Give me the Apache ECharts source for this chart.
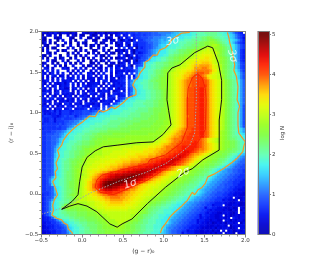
<!DOCTYPE html>
<html><head><meta charset="utf-8">
<style>html,body{margin:0;padding:0;background:#fff}#c{width:330px;height:264px}</style>
<script src="https://cdn.jsdelivr.net/npm/echarts@6/dist/echarts.min.js"></script>
</head><body><div id="c"></div>
<script>
// log N per bin. Rows top (r-i = 2) to bottom (r-i = -0.5), 80 columns in groups of 10.
// One base-36 digit per bin: logN = digit / 7. "." = empty bin.
const binRows = [
"3203242033 2032..3203 3023302332 3454555656 6667778888 89aabbbccd deeefffffe ddcba8654.",
"0.32.3.0.. 2.30.20..3 02.3.2.0.3 4.34.54556 5667777889 9aabbccccd deeeeffffe eddcba8654",
"30...203.. .20..3..02 .30..203.. 04.35.4556 6677888999 aabcccddde effgghhgff eedcba8653",
"20.3..0.3. .2.0...3.. 20..32.02. 4035304.55 6778889a9a bcccddeeef fffgghiihg feedcba864",
"03.2.0...3 .0..2.30.. .3.02..3.0 43.34.5455 5677889aab ccddeeefff gghhiijjih gfedca8654",
".20...3.0. .3..0..2.0 3.0..2...3 03.40.4355 566788abbc cdddeefffg gghhiijkkj hgfedca865",
"3.0.20.... 2.3..0...0 ..2.3..0.. 3.5.34.054 566789abcc dddeeffggg hhijkllkjj ihgfdca865",
"0.3...2.03 ...0.2.3.. 02..3.0..2 2304.30455 56789abccd eeefggghhi jjkllmllkj ihgfeca854",
"..30.2.... 0.3.2...0. 3.0..2.30. 04.3.40534 56789bcccd eeffgghhij kllmmmmllk ihgfeca854",
"20.3...0.. 3..0.2.3.. .3.20.3... 3.4024.355 67789bccdd ffgghhiijj lmmnnnnmlj ihgfeca854",
"3.0..2.03. .0.3..0.2. 3..3.0.2.0 234.305346 679ccddeef gghhiijjkl mmnnoonmlk jihgeca854",
"..3.20..3. 0...3.2..0 .2.03.3... 4.302.4056 68bccddeef gghhijklmm nnoooonmlk jihgeca854",
"03..2.0..3 .2.0.3...0 2.3..0.32. 034.3.3457 bcddefffgg hhiijklmmn ooopppomlk jihgfdb965",
"3.0..3.2.0 ..3...2.03 .0.2..30.4 243.50.567 cddeefffgg hhijkllmno ppqqqqpnml kihgfdb965",
".43.2...34 2..3.4.2.. 3.32.3.4.3 4.3454.6ab cddeeffghh ijkllmmnno qqqrrqpnml kihgfdb965",
"2.4.3.4... 3.2.3.3..2 .3.2.4.4.3 33343457ac ddeefgghii jklmmnnoop qrrrrrqonl kihgfeca75",
"43.24.3.4. .2.3.4..34 2.3.4..3.2 44.3.5.7bc ddeefgghij klmmnnoppq rsssrrpnml kihgfedb86",
"3.2.43.23. 2.3.4.2.34 .2.4.3.2.4 434.4.39cc ddeffghhij klmmnoppqr stsrqonmml ljhgfedb86",
"2.3.2.3.4. 334.4.2.33 3.24.3.33. 244.4.58cc ddefgghiij klmnnopqrs sttsrpnmml ljhgfedb86",
"234.3.4.33 43.2.4.2.3 2.3.44.233 445.68bcdd eefgghhiij klmnopqrrs stttsrponm lkihgfec97",
"42.3.32342 4.4.2.3.23 343.2.4.34 344.69cdde eeffgghiij klmnopqrrs stttsrponm lkihgfec97",
"3.4.24.243 4.3.2.4423 44.2.3.424 435.68bcdd eeffgghiij klmnopqrrs sttttrponm lkihgfec97",
"43.2.4.342 2.34.4.2.3 4.3.3.24.4 244.57bcdd eeffgghiij klmnopqrss ttuusrponm lkihgfec97",
"2343.24.34 4.2.3.3.24 3.23443.23 4.3.57bccd deeffgghij klmnopqrss ttuusrponm lkihgfec97",
"44.2.34.34 342.3.42.4 43.43.2.44 345.58bccd deeffgghij klmnopqrss ttuusrponm lkihgfec97",
"3.2.42.3.2 43.2.4342. 3.442.345. 344.67bcdd deeffgghij klmnopqrss ttuusrponm lkihgfec97",
"43.44.342. 342.3.43.4 243.3.443. 4569cccddd deeffgghij klmnopqsss ttuusrponm lkihgfec97",
"4343.2.334 243.43.2.3 43.23443.4 58bccddeee efffgghhij klmnopqsss ttuusrponm lkihgfec97",
"42.3.342.4 53.342.443 243.443.56 9ccdddeeee ffffgghhij klmnopqsss ttuusrponm lkihgfec97",
"343.3.243. 443.45343. 443.5.57ab cccdddeeee efffgghhij klmnopqsss ttuusrponm lkihgfec96",
"44.3.244.3 45.34445.4 545.6.8bcd ddddeeeeff ffgghhhiij klmnopqsss ttuusrponm lkihgfec96",
"4334535355 5445556665 6778acccdd ddeeeeefff ffgghhhiij klmnopqsss ttuusrponm lkihgfec96",
"5343445355 5455556667 89bccccddd deeeeffffg gggghhiiij klmnopqsss ttuusrponm lkihgfec96",
"4555443456 566456778a bccddddeee eeeefffffg ggghhhiiij klmnopqrss ttuusrponm lkihgfec96",
"5445535565 5566778acc cddddeeeee ffffffgggg gghhhhiiij klmnopqsss ttuusrponm lkihgfec96",
"5445535556 67788acccd ddddeeefff fffggggggh hhhhhiiijj klmnopqsss ttuusrponm lkihgfec96",
"4555555656 7788accddd deeeeeffff fggggghhhh hhhhiiiijj klmnopqsss ttuusrponm lkihgfec96",
"5555556566 789bccddde eeeeffffff gggghhhhhh hhhiiiijjk klmnopqsss ttuusrponm lkihgfec96",
"4555555566 9accdddeee efffffgggg ghhhhhhhhi iiiiiijjjk lmnopqrsst ttuusrponm lkihgfedb9",
"5555667789 bccdddeeef fffggghhhh hhhhhiiiii iiiiijjjkl mnopqrrsst ttuusrponm kjihgfecb9",
"556667789b cdddeeefff gghhhhhhii iiiiiiiiii iijjjjjklm nopqqrsstt ttuusrponm kjihgfedcb",
"55667778ab cddeeefffg ghhhiiiiii iiijjjjjjj jjjjjjklmn opqqrssttt ttuusrponm kjihgffedc",
"5566778abc cddeeefffg hhiiiijjjj jjjjjjjjjj jjjjjklmno pqrrrssttt ttsrqonmlk kjihggfedc",
"5566778acc deeeffgggh hiiijjjjjj jjjjjkkkkk kkkkllmnno pqrrsstttt utsrqonmlk kjiihhgfed",
"5566779bcd eeefffgggh hiijjjjjjj kkkkkkkkkl lllmmmnopp qrrssttttu utsrqponml kjiihhgfed",
"556678acdd eeffgghhhi ijjjkkkkll llllllmmmm mmnnnoopqr rrsttuuuuu utsrqponml kjiihhgfed",
"556679bcdd eeffgghiij jjkkllllll llmmmmmmmm nnoooppqqr rssttuuuuu tsrrqponml kjihhggfed",
"556679cdde effgghhiij jkkkllllmm mmmmnnnnnn ooooppqqrr ssttuuvvut srqqponlkj iihhggfedc",
"55667acdde effgghhijj kkkklllmmm mmmnnnnooo oopppqqrrs ttuuvvvusr qqponmkjji ihhgfeecba",
"55667acdde effghhijkk kllllmmmmm nnnnoooopp ppqqqrrstt uuvvwvusrq ponmlkjjii hhgfedca98",
"55667bcdee fgghhijkkl lllmmmmnnn nooooppppq qrrssttuuv vwwwvtsrqp onmlkjjiih ggfedca987",
"55667bcdef fghhiijkll lmmmmnnnno oopppqqqqr rrsttuuvvv wwvutsrqpo mlkjjiihhg gfedca9877",
"55667bcdef fghhijjkll mmmnnnnooo ppqqqrrrss ttuuvvvwww wwvtsrqpnm lkjjiihhgg fedca98776",
"55667bcdef fghiijkllm mmnnnooppp qqrrssttuu uvvvwwwwvu srqponmllk jjiihhggfe dcba987766",
"55667bcdef fghijjklmm nnnoooppqq rsttuuvvvw wwwxwwvuts rqponmllkj iihhggfedc ba98877665",
"55667bcdef gghijkllmn noopqqrsst uuvvwwwxxx xxxwwutrqp onnmmlkjji ihhggfedcb a998877665",
"55667acdef gghijjklmn opqrstuvvw wwxxxyyyyx xwwvtsrqpo nnmllkjjii hhggffecba 9988776655",
"55679cddef gghijkllmo pqrstuvwwx xyyyzzyyxx wvusrqponn mllkjjiihh ggffedcba9 9887766555",
"5568bcdeef gghijklmno qrsuvwxxyy zzzzyyxxwv usrqpoonmm llkjjiihhg gffedcba99 8877665554",
"5568bcdeef ghhijklmop qrtvxyzzzz zzyyyxwvus rqpoonnmml lkjjiihhgg ffedcba998 8776655544",
"5567bcdeef ghhijklmop rsuwyzzzyy yxwvvusrqp oonnnmmllk jjiihhggff fedcba9988 7766655444",
"55667bcdef ghhijklnop rsuwxyyyxx wvvutsrqpo onnmmmllkj jiihhggfff edcba99887 7766554443",
"55667acdef gghijklmop qrsuvwwwvv uttsrqqpoo nnmmlllkjj iihhggffee dcba998877 7665544333",
"55567acdef gghijklmnn oprstuuutt tsrqqppoon nmmmllkjji ihhggffeed ccba988776 6655443332",
"455679cdef ghiijklmmn oopqrrssss rrqqppoonn mmmllkjjii hhggffeedd cba9887766 6554433322",
"45667bcdef gghikkllmm nnoopqqrrr rqqppoonnm mllkjjiihh ggffeeddcb a998877665 55443.3223",
"45679cddef fghjklllmm mnnoopp qqq qqppoonnmm llkjjiihhg gffeeddcba 9988776655 5343323.23",
"4568bcdeef fhjklkkkll lmmnnooppp ppooonnmml lkjiihhggf feeddcba99 8877665544 4433223312",
"4568bcdefh jkkjjjjkkl lmmmnnoooo ooonnnmmll kjihhggffe eddccba998 8776655344 4.32233212",
"4568bcdeij jjiiiijjjk llmmmnnnnn nnnnmmmllk jihggffeee ddccba9988 7766355443 3322312.32",
"4568bcdefg hhhhiiiijj jklllmmmmm mmmmllllkj ihggffeedd dccba99887 7665543433 3232132.13",
"4568cddeff gggghhhhii ijkkllllll lllllllkji ihgffeeedd dcba998877 6655434332 2333213.32",
"3568cddeef fggghhhhii iijjkkllll lllllkkjih ggffeedddc cba9988776 6535443322 3.23123233",
"34457acdee effgggghhh hiijjkklll lllllkjihh gffeeeddcc ba99887766 5534433322 3323.43233",
"3445568acd deeffggghh hhiijjkkkl llllkjiihg ffeeeddccc a998877665 5344332332 2.33132332",
"334455679b cddeefffgg ghhiijjkkk llkjiihhgg ffeeeddccc a988776655 5343323123 2313323.13",
"2344455678 bcddeeffgg gghhiijjjk kkjiihhggf feeedddcba 9887766554 4433322232 332.133233",
"2334455567 9bcddeeffg gghhiiijjk kjjiihhggf feeedddcb9 8877665544 4332222313 2333123.33",
"2334445566 9bcddeeffg gghhhiiiij jjiiihhggf feeedddca9 8776655344 3322323132 .3.2312323",
"2233445566 8acddeefff gghhhiiiii iiihhhggff eeedddcba9 8776635444 3322232313 3.2331.233"
];

// 3-sigma contour, upper-left branch and lower-right branch (x = g-r, y = r-i)
const sigma3Left = [[1.32,1.99],[1.22,1.98],[1.16,1.94],[1.10,1.90],[1.06,1.84],[1.02,1.80],[0.95,1.77],[0.92,1.71],[0.87,1.71],[0.82,1.65],[0.77,1.62],[0.77,1.56],[0.71,1.49],[0.69,1.44],[0.65,1.40],[0.62,1.34],[0.66,1.28],[0.66,1.22],[0.60,1.20],[0.56,1.18],[0.50,1.12],[0.46,1.09],[0.40,1.05],[0.36,1.07],[0.31,1.03],[0.26,1.01],[0.21,1.03],[0.16,0.95],[0.09,0.96],[0.01,0.89],[-0.05,0.85],[-0.12,0.79],[-0.18,0.73],[-0.23,0.66],[-0.25,0.60],[-0.30,0.54],[-0.28,0.47],[-0.32,0.38],[-0.30,0.31],[-0.33,0.27],[-0.32,0.20],[-0.36,0.15],[-0.33,0.08],[-0.30,-0.01],[-0.34,-0.07],[-0.36,-0.14],[-0.35,-0.20],[-0.37,-0.26],[-0.31,-0.30],[-0.25,-0.32],[-0.22,-0.36],[-0.18,-0.38],[-0.17,-0.43],[-0.12,-0.48],[-0.12,-0.50]];
const sigma3Right = [[1.78,1.99],[1.80,1.92],[1.81,1.86],[1.84,1.75],[1.87,1.59],[1.86,1.52],[1.89,1.45],[1.91,1.32],[1.90,1.16],[1.93,1.08],[1.91,1.00],[1.91,0.85],[1.92,0.75],[1.97,0.68],[2.00,0.64],[1.98,0.58],[1.97,0.52],[1.90,0.44],[1.84,0.39],[1.73,0.31],[1.63,0.25],[1.54,0.21],[1.51,0.13],[1.47,0.08],[1.42,0.05],[1.38,-0.01],[1.35,0.02],[1.29,-0.08],[1.22,-0.15],[1.14,-0.22],[1.08,-0.28],[1.02,-0.37],[0.98,-0.42],[0.96,-0.48]];
const sigma2 = [[-0.25,-0.19],[-0.12,-0.09],[-0.05,-0.01],[-0.03,0.15],[0,0.33],[0.06,0.45],[0.16,0.53],[0.26,0.58],[0.43,0.60],[0.67,0.63],[0.87,0.64],[0.99,0.73],[1.09,0.85],[1.06,1.03],[1.04,1.16],[1.05,1.49],[1.10,1.55],[1.20,1.59],[1.38,1.74],[1.54,1.82],[1.60,1.80],[1.67,1.61],[1.71,1.40],[1.71,1.16],[1.68,0.91],[1.68,0.54],[1.48,0.42],[1.35,0.31],[1.26,0.27],[1.02,0.08],[0.80,-0.12],[0.61,-0.31],[0.49,-0.37],[0.43,-0.41],[0.34,-0.37],[0.18,-0.22],[0.06,-0.15],[-0.05,-0.12],[-0.15,-0.15],[-0.25,-0.19]];
const sigma1 = [[1.41,1.48],[1.35,1.43],[1.30,1.30],[1.29,1.16],[1.29,0.82],[1.22,0.63],[1.10,0.54],[1.02,0.48],[0.83,0.42],[0.80,0.37],[0.46,0.29],[0.24,0.23],[0.18,0.17],[0.16,0.08],[0.22,0.02],[0.38,-0.01],[0.53,0.05],[0.80,0.17],[1.02,0.31],[1.30,0.48],[1.42,0.64],[1.51,0.79],[1.52,1.16],[1.51,1.30],[1.47,1.43],[1.41,1.48]];
const ridge = [[-0.5,-0.25],[-0.23,-0.17],[0.10,0.01],[0.46,0.16],[0.77,0.26],[1.02,0.37],[1.20,0.50],[1.32,0.60],[1.38,0.75],[1.40,1.16],[1.40,1.99]];

const sigmaText = ['1σ','2σ','3σ','3σ'];
const sigmaX = [0.59,1.24,1.11,1.84];
const sigmaY = [0.12,0.26,1.88,1.70];
const sigmaRotation = [18,22,12,-75];
const colorbarTicks = [0,1,2,3,4,5];
const mainTicksMin = -0.5, mainTicksMax = 2;

const cmap = ['#0000b0','#0000d0','#0010f0','#1038ff','#2060ff','#2898ff','#30ccff','#40f4f0','#60ffb4','#70ff78','#80ff40','#98ff20','#c0ff10','#e4fa00','#ffd800','#ff9800','#ff5000','#ff2000','#e00000','#a80000','#700000'];

const digits = '0123456789abcdefghijklmnopqrstuvwxyz';
const heatData = [];
binRows.forEach((row, j) => {
  const s = row.replace(/ /g, '');
  for (let i = 0; i < 80; i++) {
    const ch = s[i];
    if (ch === undefined || ch === '.') continue;
    heatData.push([i, 79 - j, digits.indexOf(ch) / 7]);
  }
});
const idx = Array.from({length: 80}, (_, i) => i);
const cbarIdx = Array.from({length: 203}, (_, i) => i);
const cbarData = cbarIdx.map(i => [0, i, (i + 0.5) / 203 * 5.07]);

const grey = '#7f7f7f', txt = '#333', font = 'DejaVu Sans';
const hiddenCat = (gi, data) => ({type:'category', gridIndex:gi, data, show:false, boundaryGap:true});
const spine = {lineStyle:{color:grey, width:1}};
const tickLabel = {fontSize:5.5, color:txt, fontFamily:font};
const line = (name, data, color, width, type) => ({name, type:'line', data, xAxisIndex:0, yAxisIndex:0, showSymbol:false, symbol:'none', silent:true, z:4, animation:false, lineStyle:{color, width, type:type||'solid'}});

const chart = echarts.init(document.getElementById('c'), null, {renderer:'canvas'});
chart.setOption({
  animation:false,
  backgroundColor:'#fff',
  grid:[{left:41.3, top:31.5, width:204, height:203},{left:258, top:31.5, width:11, height:203}],
  xAxis:[
    {type:'value', gridIndex:0, min:mainTicksMin, max:mainTicksMax, interval:0.5, z:6, splitLine:{show:false},
      axisLine:{show:true, onZero:false, ...spine}, axisTick:{show:true, length:3, lineStyle:{color:grey, width:1}},
      minorTick:{show:true, splitNumber:5, length:2, lineStyle:{color:grey, width:0.8}}, minorSplitLine:{show:false},
      axisLabel:{...tickLabel, margin:3, formatter:v=>v.toFixed(1).replace('-','−')},
      name:'(g − r)₀', nameLocation:'middle', nameGap:14, nameTextStyle:{fontSize:6, color:txt, fontFamily:font}},
    hiddenCat(0, idx),
    {type:'value', gridIndex:0, position:'top', min:mainTicksMin, max:mainTicksMax, z:6, splitLine:{show:false}, axisLine:{show:true, onZero:false, ...spine}, axisTick:{show:false}, axisLabel:{show:false}},
    {type:'category', gridIndex:1, data:['c'], z:6, axisLine:{show:true, ...spine}, axisTick:{show:false}, axisLabel:{show:false}},
    {type:'value', gridIndex:1, position:'top', min:0, max:1, z:6, splitLine:{show:false}, axisLine:{show:true, onZero:false, ...spine}, axisTick:{show:false}, axisLabel:{show:false}}
  ],
  yAxis:[
    {type:'value', gridIndex:0, min:mainTicksMin, max:mainTicksMax, interval:0.5, z:6, splitLine:{show:false},
      axisLine:{show:true, onZero:false, ...spine}, axisTick:{show:true, length:3, lineStyle:{color:grey, width:1}},
      minorTick:{show:true, splitNumber:5, length:2, lineStyle:{color:grey, width:0.8}},
      axisLabel:{...tickLabel, margin:3, formatter:v=>v.toFixed(1).replace('-','−')},
      name:'(r − i)₀', nameLocation:'middle', nameGap:17, nameRotate:90, nameTextStyle:{fontSize:6, color:txt, fontFamily:font}},
    hiddenCat(0, idx),
    {type:'value', gridIndex:0, position:'right', min:mainTicksMin, max:mainTicksMax, z:6, splitLine:{show:false}, axisLine:{show:true, onZero:false, ...spine}, axisTick:{show:false}, axisLabel:{show:false}},
    {type:'category', gridIndex:1, data:cbarIdx, z:6, axisLine:{show:true, ...spine}, axisTick:{show:false}, axisLabel:{show:false}},
    {type:'value', gridIndex:1, position:'right', min:0, max:5.07, z:6, splitLine:{show:false}, axisLine:{show:true, onZero:false, ...spine},
      axisTick:{show:true, length:2, customValues:colorbarTicks, lineStyle:{color:grey, width:1}},
      axisLabel:{...tickLabel, margin:3, customValues:colorbarTicks, formatter:v=>String(v)},
      name:'log N', nameLocation:'middle', nameGap:9, nameRotate:90, nameTextStyle:{fontSize:5.5, color:txt, fontFamily:font}}
  ],
  visualMap:{show:false, type:'continuous', min:0, max:5, seriesIndex:[0,1], dimension:2, inRange:{color:cmap}},
  series:[
    {type:'heatmap', data:heatData, xAxisIndex:1, yAxisIndex:1, silent:true, z:1, progressive:0, itemStyle:{borderWidth:0}},
    {type:'heatmap', data:cbarData, xAxisIndex:3, yAxisIndex:3, silent:true, z:1, progressive:0, itemStyle:{borderWidth:0}},
    line('ridge', ridge, '#a8a8a8', 1, [1.5,1.5]),
    line('1 sigma', sigma1, '#f02000', 0.9),
    line('2 sigma', sigma2, '#111111', 1),
    line('3 sigma left', sigma3Left, '#f59a23', 1.2),
    line('3 sigma right', sigma3Right, '#f59a23', 1.2),
    {type:'scatter', xAxisIndex:0, yAxisIndex:0, symbolSize:0, silent:true, z:5,
      data:sigmaText.map((t,i)=>({value:[sigmaX[i],sigmaY[i]], label:{show:true, position:'inside', rotate:sigmaRotation[i], formatter:t, color:'#fff', fontSize:10.5, fontStyle:'italic', fontFamily:font}}))}
  ]
});
</script></body></html>
